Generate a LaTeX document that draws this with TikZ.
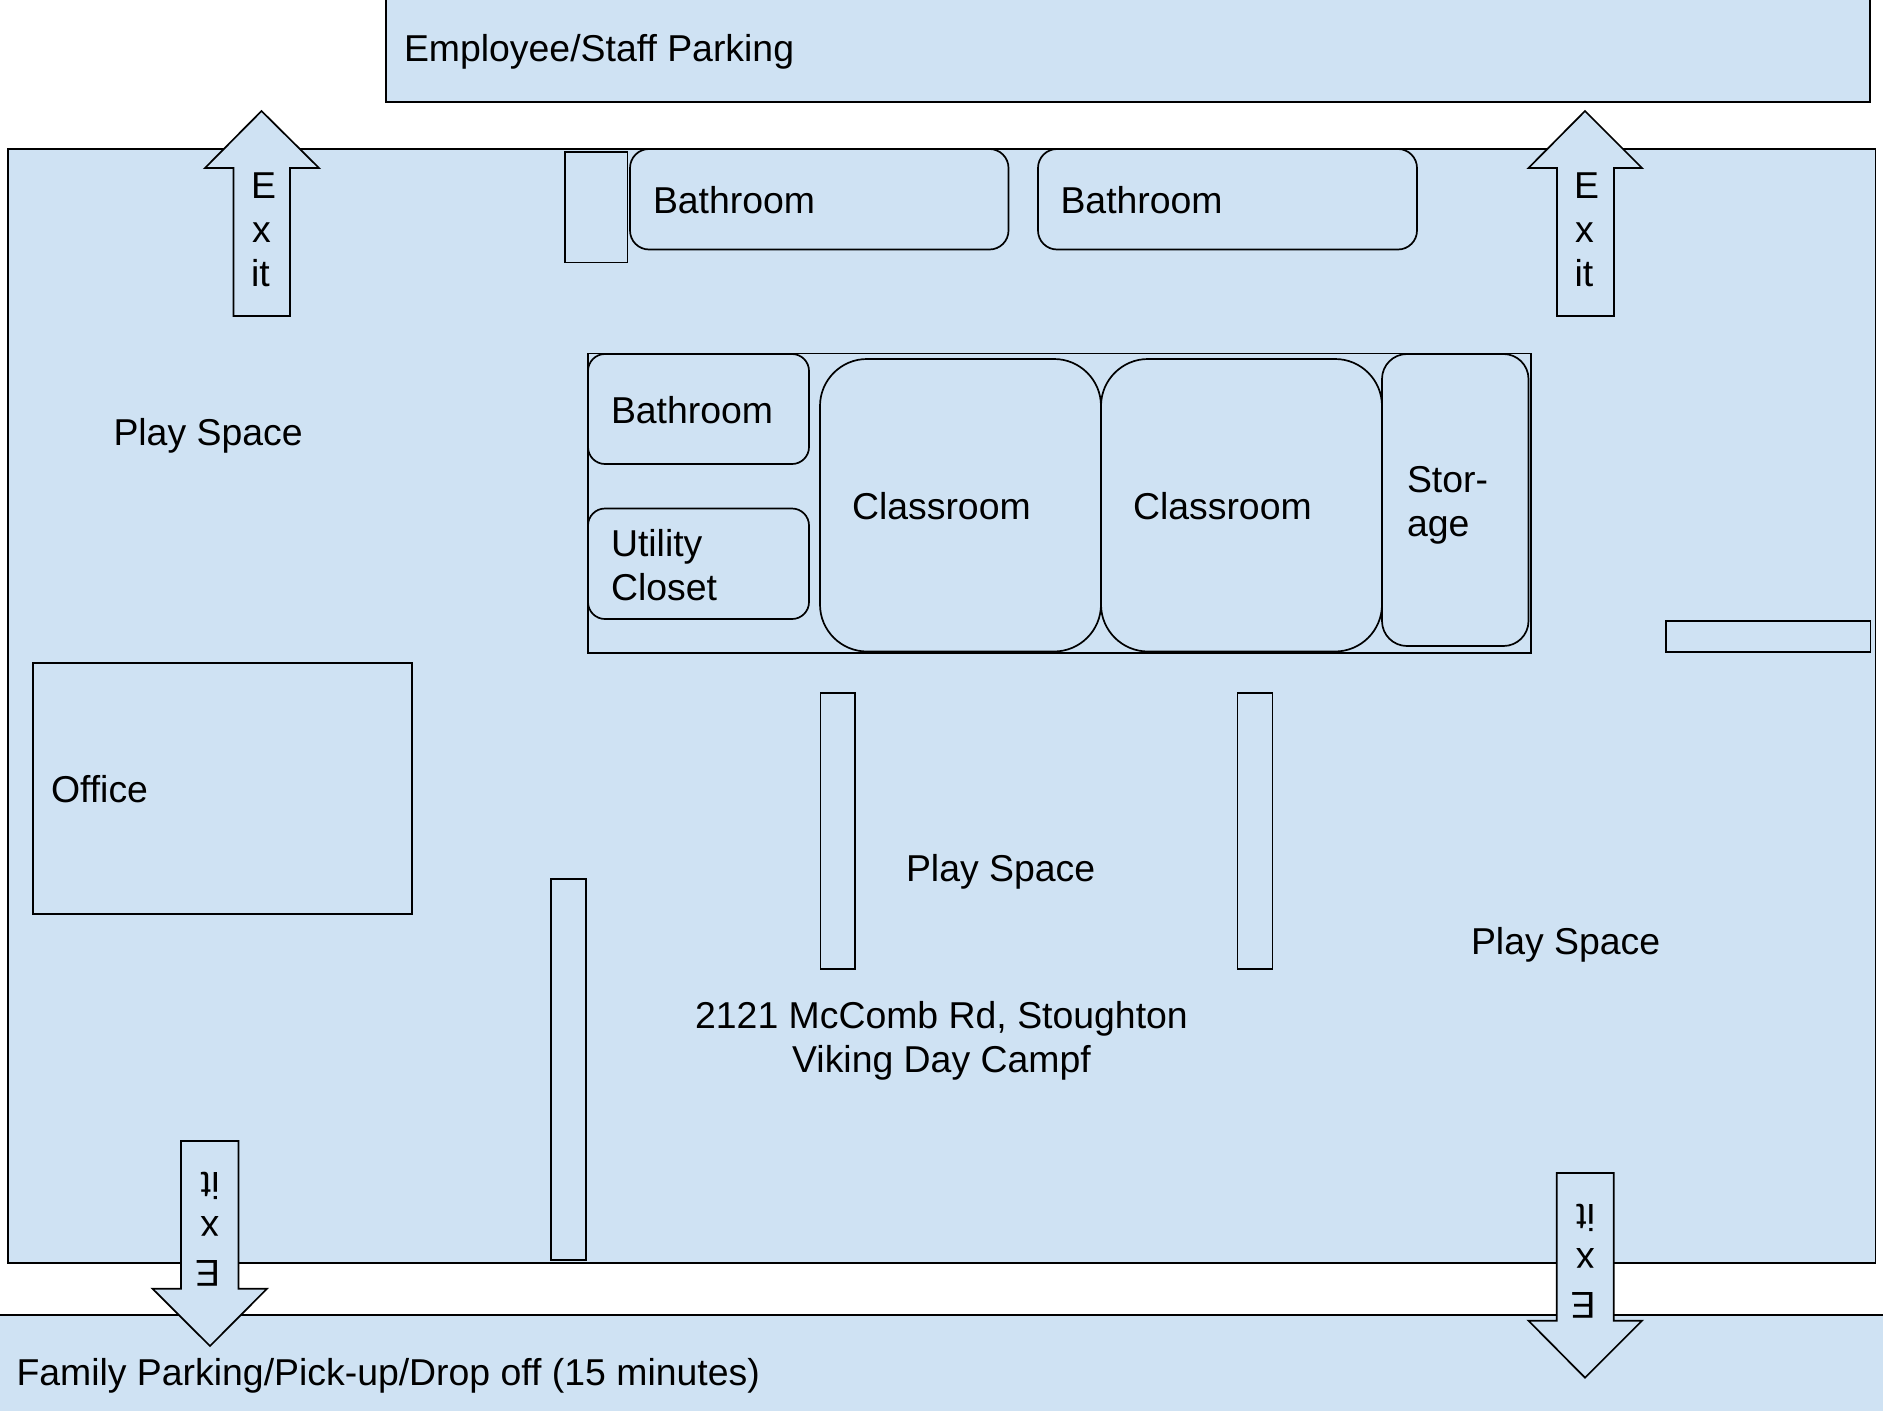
\documentclass[tikz,border=0pt]{standalone}
\usepackage{fontspec}
\setmainfont{Liberation Sans}
\definecolor{roomblue}{HTML}{CFE2F3}
\tikzset{
  x=1pt,y=-1pt,
  room/.style={draw=black,fill=roomblue,line width=1.7pt,line join=miter},
  roomr/.style={room,rounded corners=#1},
  lbl/.style={inner sep=0pt,outer sep=0pt,anchor=base west,text=black,font=\fontsize{37.4}{44}\selectfont},
  lblc/.style={lbl,anchor=base},
  flip/.style={lbl,rotate=180}
}
\begin{document}
\begin{tikzpicture}
\useasboundingbox (0,0) rectangle (1883,1411);
% parking lots and building
\draw[room] (386,-5) rectangle (1870,102);
\draw[room] (-5,1315) rectangle (1890,1420);
\draw[room] (8,149) rectangle (1875.5,1263);
% upper rooms
\draw[room] (565,152) rectangle (627.5,262.5);
\draw[roomr=19pt] (630,149) rectangle (1008.5,249.5);
\draw[roomr=19pt] (1038,149) rectangle (1417,249.5);
% central block
\draw[room] (588,353.5) rectangle (1531,653);
\draw[roomr=17pt] (588,354) rectangle (809,464);
\draw[roomr=17pt] (588,508.5) rectangle (809,619);
\draw[roomr=47pt] (820,359) rectangle (1101,651.5);
\draw[roomr=47pt] (1101,359) rectangle (1382,651.5);
\draw[roomr=25pt] (1382,354) rectangle (1528.5,646);
% walls and office
\draw[room] (1666,621) rectangle (1870.5,652);
\draw[room] (33,663) rectangle (412,914);
\draw[room] (820.5,693) rectangle (855,969);
\draw[room] (1237.5,693) rectangle (1272.5,969);
\draw[room] (551,879) rectangle (586,1260);
% exit arrows
\draw[room] (261.5,111) -- (319,168) -- (290,168) -- (290,316) -- (233.5,316) -- (233.5,168) -- (205,168) -- cycle;
\draw[room] (1585,111) -- (1642,168) -- (1614,168) -- (1614,316) -- (1557,316) -- (1557,168) -- (1528.5,168) -- cycle;
\draw[room] (210,1346) -- (267,1288.7) -- (238.5,1288.7) -- (238.5,1141) -- (181,1141) -- (181,1288.7) -- (152.5,1288.7) -- cycle;
\draw[room] (1585,1377.7) -- (1642,1320.7) -- (1613.7,1320.7) -- (1613.7,1173) -- (1556.7,1173) -- (1556.7,1320.7) -- (1528.5,1320.7) -- cycle;
% labels
\node[lbl] (staff) at (404,61) {Employee/Staff Parking};
\node[lbl] (family) at (16.5,1385.5) {Family Parking/Pick-up/Drop off (15 minutes)};
\node[lbl] (bath1) at (653,213) {Bathroom};
\node[lbl] (bath2) at (1060.5,213) {Bathroom};
\node[lbl] (bath3) at (611,423) {Bathroom};
\node[lbl] (play1) at (113.5,445) {Play Space};
\node[lbl] (play2) at (906,881.5) {Play Space};
\node[lbl] (play3) at (1471,954.5) {Play Space};
\node[lbl] (util1) at (611,556) {Utility};
\node[lbl] (util2) at (611,600) {Closet};
\node[lbl] (class1) at (852,519) {Classroom};
\node[lbl] (class2) at (1133,519) {Classroom};
\node[lbl] (stor1) at (1407,492) {Stor-};
\node[lbl] (stor2) at (1407,536) {age};
\node[lbl] (office) at (51,802) {Office};
\node[lblc] (addr1) at (941.5,1028) {2121 McComb Rd, Stoughton};
\node[lblc] (addr2) at (941.5,1072) {Viking Day Campf};
% exit lettering
\node[lbl] (e1a) at (251,198) {E};
\node[lbl] (e1b) at (252,242) {x};
\node[lbl] (e1c) at (251,286) {it};
\node[lbl] (e2a) at (1574,198) {E};
\node[lbl] (e2b) at (1575,242) {x};
\node[lbl] (e2c) at (1574.5,286) {it};
\node[flip] (e3a) at (220,1260) {E};
\node[flip] (e3b) at (219,1216.5) {x};
\node[flip] (e3c) at (219.5,1172.5) {it};
\node[flip] (e4a) at (1595.5,1292) {E};
\node[flip] (e4b) at (1594.5,1248.5) {x};
\node[flip] (e4c) at (1595,1204) {it};
\end{tikzpicture}
\end{document}
